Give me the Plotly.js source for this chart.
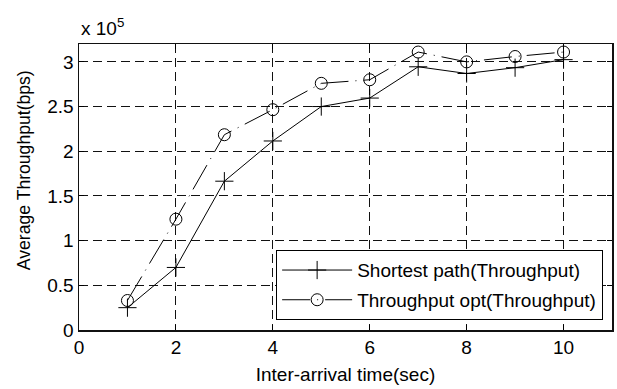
<!DOCTYPE html>
<html><head><meta charset="utf-8">
<script src="https://cdn.plot.ly/plotly-3.0.1.min.js"></script>
<style>html,body{margin:0;padding:0;background:#fff}#chart{width:617px;height:389px}</style>
</head><body><div id="chart"></div>
<script>
const interArrival = [1, 2, 3, 4, 5, 6, 7, 8, 9, 10];
const shortestPath = [0.25, 0.70, 1.665, 2.115, 2.50, 2.595, 2.945, 2.87, 2.935, 3.025];
const throughputOpt = [0.33, 1.24, 2.185, 2.465, 2.76, 2.80, 3.11, 3.00, 3.06, 3.11];
const seriesNames = ['Shortest path(Throughput)', 'Throughput opt(Throughput)'];
const xTicks = [0, 2, 4, 6, 8, 10];
const yTicks = [0, 0.5, 1, 1.5, 2, 2.5, 3];
const yTickText = ['0', '0.5', '1', '1.5', '2', '2.5', '3'];
const xTitle = 'Inter-arrival time(sec)';
const yTitle = 'Average Throughput(bps)';

const font = {family: 'Liberation Sans, Arial, sans-serif', size: 19, color: '#000'};
const traces = [
  {x: interArrival, y: shortestPath, name: seriesNames[0], mode: 'lines+markers', legendgroup: 'a',
   line: {color: '#000', width: 1},
   marker: {symbol: 'cross-thin-open', size: 13, line: {color: '#000', width: 1}}},
  {x: interArrival, y: throughputOpt, name: seriesNames[1], mode: 'lines+markers', legendgroup: 'b',
   line: {color: '#000', width: 1, dash: '28px,7px,1px,7px'},
   marker: {symbol: 'circle-open', size: 12, color: '#000', line: {color: '#000', width: 1}}}
];
const axisCommon = {
  showline: true, linecolor: '#111', linewidth: 1.5, mirror: 'ticks',
  ticks: 'inside', ticklen: 5, tickcolor: '#000', tickwidth: 1,
  showgrid: true, gridcolor: '#111', griddash: '9px,5px', gridwidth: 1,
  zeroline: false, tickfont: font
};
const layout = {
  width: 617, height: 389,
  margin: {l: 79, r: 5, t: 44, b: 59},
  paper_bgcolor: '#fff', plot_bgcolor: '#fff',
  font: font,
  showlegend: true,
  legend: {x: 0.983, xanchor: 'right', y: 0.035, yanchor: 'bottom',
    bgcolor: '#fff', bordercolor: '#000', borderwidth: 1.2,
    font: font, itemwidth: 70, tracegroupgap: 2},
  xaxis: Object.assign({}, axisCommon, {range: [0, 11], tickvals: xTicks,
    title: {text: xTitle, font: font, standoff: 10}}),
  yaxis: Object.assign({}, axisCommon, {range: [0, 3.2], tickvals: yTicks, ticktext: yTickText}),
  annotations: [
    {xref: 'paper', yref: 'paper', x: 0, y: 1, xanchor: 'left', yanchor: 'bottom',
     yshift: 3, showarrow: false, text: 'x 10<sup>5</sup>', font: font},
    {xref: 'paper', yref: 'paper', x: 0, xshift: -55, y: 0.559, xanchor: 'center', yanchor: 'middle',
     textangle: -90, showarrow: false, text: yTitle,
     font: {family: font.family, size: 17.6, color: '#000'}}
  ]
};
Plotly.newPlot('chart', traces, layout, {displayModeBar: false, staticPlot: true});
</script></body></html>
